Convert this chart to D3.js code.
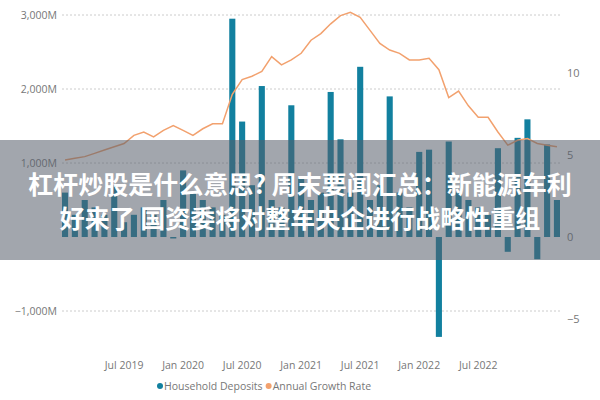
<!DOCTYPE html>
<html><head><meta charset="utf-8">
<script src="https://cdn.jsdelivr.net/npm/d3@7"></script>
<style>body{margin:0;background:#fff}text{font-family:"Open Sans","DejaVu Sans",sans-serif}</style>
</head><body><svg id="c" width="600" height="400"></svg>
<script>
const months = d3.range(51).map(i => new Date(2019, i, 1));
const deposits = [600,300,500,400,300,700,200,300,400,300,500,-20,900,600,500,400,300,2950,1560,700,2040,500,400,1780,800,500,600,1960,1320,600,2300,500,700,1900,600,400,1150,1180,-1350,1290,600,500,400,300,1200,-200,1340,1590,-300,1250,500];
const growth = [4.7,4.8,4.9,5.1,5.3,5.5,5.7,6.2,6.4,6.1,6.5,6.8,6.5,6.2,6.6,6.9,6.9,8.7,9.6,9.8,10.1,11.0,10.5,10.8,11.2,12.0,12.4,13.0,13.5,13.7,13.4,12.6,11.8,11.4,11.2,10.8,10.8,10.9,10.2,8.5,8.9,8.0,7.3,7.3,6.4,5.6,5.9,6.0,5.7,5.6,5.5];
const leftTicks = [-1000,0,1000,2000,3000];
const rightTicks = [-5,0,5,10];
const tickMonths = [6,12,18,24,30,36,42];
const tickLabels = ["Jul 2019","Jan 2020","Jul 2020","Jan 2021","Jul 2021","Jan 2022","Jul 2022"];
const seriesNames = ["Household Deposits","Annual Growth Rate"];
const colors = ["#12809f","#f2a16e"];
const banner = ["杠杆炒股是什么意思? 周末要闻汇总：新能源车利","好来了 国资委将对整车央企进行战略性重组"];

const svg = d3.select("#c");
const x = d3.scaleBand().domain(d3.range(51)).range([62,560]).paddingInner(0.38);
const yL = d3.scaleLinear().domain([-1000,3000]).range([311,15]);
const yR = d3.scaleLinear().domain([-5,10]).range([319,73]);

svg.append("g").selectAll("line").data(leftTicks.filter(d=>d!==0)).join("line")
 .attr("x1",62).attr("x2",560).attr("y1",d=>yL(d)).attr("y2",d=>yL(d))
 .attr("stroke","#ccc").attr("stroke-dasharray","2,2");
svg.append("g").attr("transform","translate(60,0)")
 .call(d3.axisLeft(yL).tickValues(leftTicks.filter(d=>d!==0)).tickSize(0).tickFormat(d=>d3.format(",")(d)+"M"))
 .call(g=>g.select(".domain").remove())
 .selectAll("text").attr("fill","#777").attr("font-size",10.5);
svg.append("g").attr("transform","translate(564,0)")
 .call(d3.axisRight(yR).tickValues(rightTicks).tickSize(0))
 .call(g=>g.select(".domain").remove())
 .selectAll("text").attr("fill","#777").attr("font-size",11);

svg.append("g").selectAll("rect").data(deposits).join("rect")
 .attr("x",(d,i)=>x(i)).attr("width",x.bandwidth())
 .attr("y",d=>yL(Math.max(0,d))).attr("height",d=>Math.abs(yL(d)-yL(0)))
 .attr("fill",colors[0]);

svg.append("path").datum(growth)
 .attr("d",d3.line().x((d,i)=>x(i)+x.bandwidth()/2).y(d=>yR(d)))
 .attr("fill","none").attr("stroke",colors[1]).attr("stroke-width",1.5);

svg.append("g").attr("transform","translate(0,359)")
 .call(d3.axisBottom(x).tickValues(tickMonths).tickSize(0).tickFormat((d)=>tickLabels[tickMonths.indexOf(d)]))
 .call(g=>g.select(".domain").remove())
 .selectAll("text").attr("fill","#777").attr("font-size",10.5);

const lg = svg.append("g").attr("transform","translate(157,386)");
let lx = 0;
seriesNames.forEach((n,i)=>{
  lg.append("circle").attr("cx",lx+3).attr("cy",0).attr("r",3).attr("fill",colors[i]);
  const t = lg.append("text").attr("x",lx+7).attr("y",3.5).attr("font-size",10.5).attr("fill","#777").text(n);
  lx += 7 + t.node().getComputedTextLength() + 3;
});

svg.append("rect").attr("x",0).attr("y",140).attr("width",600).attr("height",120).attr("fill","rgba(85,92,105,0.55)");
svg.append("g").selectAll("text").data(banner).join("text")
 .attr("x",300).attr("y",(d,i)=>194+i*34).attr("text-anchor","middle")
 .attr("fill","#fff").attr("font-size",25).attr("font-weight","bold")
 .style("font-family","'Noto Sans CJK SC',sans-serif").text(d=>d);
</script></body></html>
